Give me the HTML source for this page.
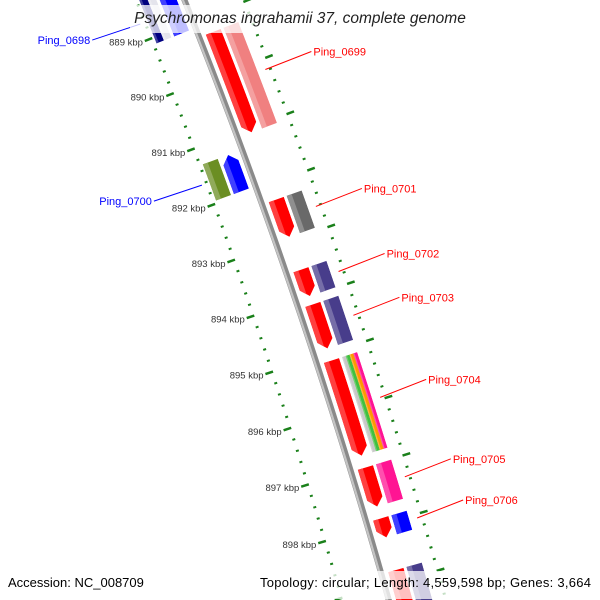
<!DOCTYPE html>
<html><head><meta charset="utf-8"><style>
html,body{margin:0;padding:0;background:#fff;overflow:hidden;width:600px;height:600px;}
svg{display:block;font-family:"Liberation Sans",sans-serif;}
</style></head><body>
<svg id="map" width="600" height="600" viewBox="0 0 600 600" xmlns="http://www.w3.org/2000/svg">
<defs id="defs"></defs>
<g id="ticks"></g>
<g id="backbone"></g>
<g id="features"></g>
<g id="labels"></g>
<rect x="130" y="5" width="340" height="28" fill="#fff" fill-opacity="0.75"/>
<text x="300" y="23" text-anchor="middle" font-size="15.5" font-style="italic" fill="#222">Psychromonas ingrahamii 37, complete genome</text>
<rect x="3" y="571" width="140" height="28" fill="#fff" fill-opacity="0.75"/>
<rect x="255" y="571" width="342" height="28" fill="#fff" fill-opacity="0.75"/>
<text x="8" y="587" font-size="13" fill="#000">Accession: NC_008709</text>
<text x="260" y="587" font-size="13" textLength="331" lengthAdjust="spacing" fill="#000">Topology: circular; Length: 4,559,598 bp; Genes: 3,664</text>
</svg>
<script>
const tickValues = [889000,890000,891000,892000,893000,894000,895000,896000,897000,898000];
const geneNames = ['Ping_0698','Ping_0699','Ping_0700','Ping_0701','Ping_0702','Ping_0703','Ping_0704','Ping_0705','Ping_0706',''];
const geneStart = [888300,889280,891300,892280,893525,894140,895130,897010,897900,898800];
const geneEnd = [889110,891080,891950,892940,893990,894915,896800,897690,898230,900200];
const geneStrand = [-1,1,-1,1,1,1,1,1,1,1];
const cogColors = [['#000080','#e4e4ec'],['#f08080'],['#6b8e23'],['#696969'],['#483d8b'],['#483d8b'],['#c8c8c8','#40c040','#ff9900','#ff1493'],['#ff1493'],['#0000ff'],['#483d8b']];

const NS='http://www.w3.org/2000/svg';
const CX=-5385.1, CY=2231.6, T0=-0.37717, K=9.928e-6, R0=6000;
const RL=R0-45, RR=R0+55;
function P(bp,r){const t=T0+(bp-889000)*K;return [CX+r*Math.cos(t),CY+r*Math.sin(t)];}
function mk(tag,attrs,parent){const e=document.createElementNS(NS,tag);for(const k in attrs)e.setAttribute(k,attrs[k]);parent.appendChild(e);return e;}
function pts(a){return a.map(p=>p[0].toFixed(2)+','+p[1].toFixed(2)).join(' ');}
function lighten(c,f){const n=parseInt(c.slice(1),16);let r=n>>16,g=(n>>8)&255,b=n&255;r=Math.round(r+(255-r)*f);g=Math.round(g+(255-g)*f);b=Math.round(b+(255-b)*f);return 'rgb('+r+','+g+','+b+')';}

// tick rings
const tg=document.getElementById('ticks');
const tFirst=tickValues[0]-1000, tLast=tickValues[tickValues.length-1]+2000;
[[RL,-1],[RR,1]].forEach(([rr,side])=>{
  for(let bp=tFirst;bp<=tLast;bp+=200){
    const major=(bp%1000===0);
    const a=P(bp,major?rr-side*1:rr-side*1.5), b=P(bp,major?rr+side*7:rr+side*1.5);
    const ln=mk('line',{x1:a[0],y1:a[1],x2:b[0],y2:b[1],stroke:'#1a801a','stroke-width':major?2.5:2},tg);
    
    
  }
});
tickValues.forEach(v=>{
  const p=P(v,RL-9);
  const t=mk('text',{x:p[0],y:p[1]+4,'text-anchor':'end','font-size':'9.5',fill:'#333'},tg);
  t.textContent=(v/1000)+' kbp';
  
  
});

// backbone
const bg=document.getElementById('backbone');
function arcPath(r,s,e){let d='';for(let bp=s;bp<=e;bp+=250){const p=P(bp,r);d+=(d?'L':'M')+p[0].toFixed(2)+','+p[1].toFixed(2);}return d;}
let bb=mk('path',{d:arcPath(R0,886000,901000),stroke:'#8a8a8a','stroke-width':6,fill:'none'},bg);


bb=mk('path',{d:arcPath(R0-1.5,886000,901000),stroke:'#c4c4c4','stroke-width':2.2,fill:'none'},bg);



// features: rA = left edge radius (highlight side), rB = right edge radius
const fg=document.getElementById('features'), defs=document.getElementById('defs');
let cid=0;
function feature(s,e,rA,rB,colors,arrow,dir,name){
  const H=Math.min(140,(e-s)*0.5), rm=(rA+rB)/2;
  const poly=[], n=8;
  let bs=s, be=e;
  if(arrow&&dir>0) be=e-H;
  if(arrow&&dir<0) bs=s+H;
  if(arrow&&dir<0) poly.push(P(s,rm));
  for(let i=0;i<=n;i++) poly.push(P(bs+(be-bs)*i/n,rA));
  if(arrow&&dir>0) poly.push(P(e,rm));
  for(let i=n;i>=0;i--) poly.push(P(bs+(be-bs)*i/n,rB));
  const id='c'+(cid++);
  const cp=mk('clipPath',{id:id},defs);
  mk('polygon',{points:pts(poly)},cp);
  const g=mk('g',{'clip-path':'url(#'+id+')'},fg);
  
  
  const w=(rB-rA)/colors.length;
  const ss=s-60, ee=e+60;
  colors.forEach((c,i)=>{
    const a=rA+w*i, b=rA+w*(i+1);
    const band=[];
    for(let j=0;j<=n;j++) band.push(P(ss+(ee-ss)*j/n,a));
    for(let j=n;j>=0;j--) band.push(P(ss+(ee-ss)*j/n,b));
    mk('polygon',{points:pts(band),fill:c},g);
    const hb=a+w*(colors.length>1?0.3:0.33);
    const hl=[];
    for(let j=0;j<=n;j++) hl.push(P(ss+(ee-ss)*j/n,a));
    for(let j=n;j>=0;j--) hl.push(P(ss+(ee-ss)*j/n,hb));
    mk('polygon',{points:pts(hl),fill:lighten(c,0.25)},g);
  });
}
geneNames.forEach((nm,i)=>{
  const s=geneStart[i], e=geneEnd[i], st=geneStrand[i];
  const base=nm?nm.toLowerCase().replace('_','-'):'gene-unlabeled';
  if(st>0){
    feature(s,e,R0+7,R0+23,['#ff0000'],true,1,base+'-cds');
    feature(s,e,R0+26,R0+42,cogColors[i],false,1,base+'-cog');
  } else {
    feature(s,e,R0-23,R0-7,['#0000ff'],true,-1,base+'-cds');
    feature(s,e,R0-42,R0-26,cogColors[i],false,-1,base+'-cog');
  }
});

// labels
const lg=document.getElementById('labels');
geneNames.forEach((nm,i)=>{
  if(!nm) return;
  const st=geneStrand[i], mid=(geneStart[i]+geneEnd[i])/2;
  const col=st>0?'#ff0000':'#0000ff';
  const a=P(mid,st>0?R0+50:R0-50);
  const b=st>0?[a[0]+46,a[1]-18]:[a[0]-48,a[1]+16];
  const ln=mk('line',{x1:a[0],y1:a[1],x2:b[0],y2:b[1],stroke:col,'stroke-width':1},lg);
  
  
  const t=mk('text',{x:st>0?b[0]+2:b[0]-2,y:b[1]+4,'text-anchor':st>0?'start':'end','font-size':'11',fill:col},lg);
  t.textContent=nm;
  
  
});
</script>
</body></html>
